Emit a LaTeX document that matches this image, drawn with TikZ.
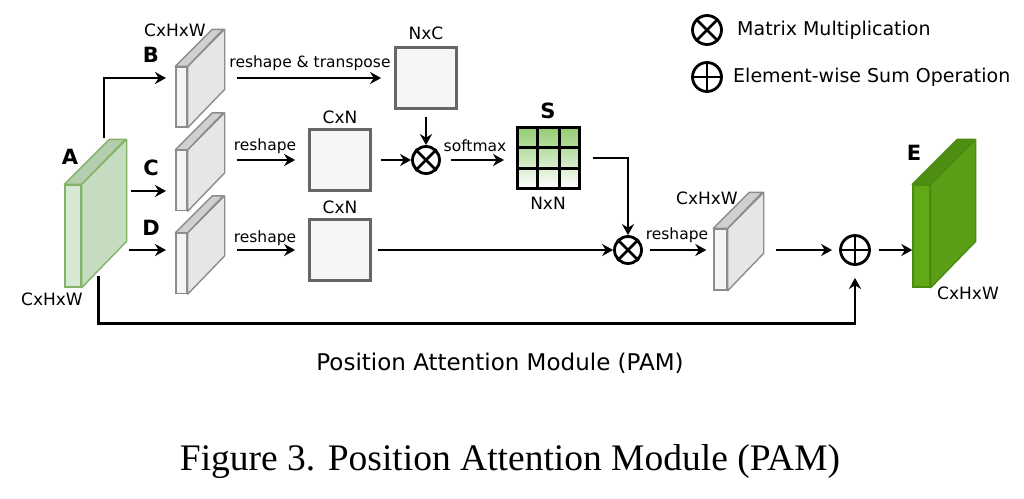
\documentclass[tikz,border=0pt]{standalone}
\usepackage{fontspec}
\setmainfont{DejaVu Sans}
\newfontfamily\capfont{Liberation Serif}
\usetikzlibrary{arrows.meta,calc}

% colours of the slabs: F front, S side, T top, L line
\definecolor{featF}{HTML}{F4F4F4}
\definecolor{featS}{HTML}{E6E6E6}
\definecolor{featT}{HTML}{D0D0D0}
\definecolor{featL}{HTML}{8C8C8C}
\definecolor{inAF}{HTML}{D5E8D4}
\definecolor{inAS}{HTML}{C5DCC1}
\definecolor{inAT}{HTML}{B3CDAE}
\definecolor{inAL}{HTML}{82B366}
\definecolor{outEF}{HTML}{60A917}
\definecolor{outES}{HTML}{5A9F15}
\definecolor{outET}{HTML}{4E8E10}
\definecolor{outEL}{HTML}{4A8C12}
\definecolor{boxF}{HTML}{F5F5F5}
\definecolor{boxL}{HTML}{666666}
\definecolor{sGreen}{HTML}{92CD72}

% slab: name, centre of front face, width, height, depth, colour prefix
\newcommand{\featslab}[6]{%
  \node[draw=#6L, fill=#6F, line width=1.4pt, minimum width=#3pt, minimum height=#4pt, inner sep=0pt] (#1) at #2 {};
  \filldraw[draw=#6L, fill=#6S, line width=1.4pt, line join=round] (#1.north east) -- ++(#5,-#5) -- ++(0,#4) -- (#1.south east) -- cycle;
  \filldraw[draw=#6L, fill=#6T, line width=1.4pt, line join=round] (#1.north west) -- ++(#5,-#5) -- ++(#3,0) -- (#1.north east) -- cycle;
}

\tikzset{
  lbl/.style={font=\fontsize{15.5}{18}\selectfont, inner sep=0pt},
  dim/.style={font=\fontsize{17}{20}\selectfont, inner sep=0pt},
  tag/.style={font=\fontsize{21}{24}\selectfont\bfseries, inner sep=0pt},
  legend/.style={font=\fontsize{19}{22}\selectfont, inner sep=0pt, anchor=west},
  arr/.style={->, line width=2.6pt},
  flat/.style={draw=boxL, fill=boxF, line width=2.8pt, minimum size=61pt, inner sep=0pt},
  op/.style={circle, draw, line width=2.8pt, minimum size=27pt, inner sep=0pt},
  opbar/.style={line width=2.8pt},
}

\begin{document}
\begin{tikzpicture}[x=1pt, y=-1pt, >={Stealth[length=11pt,width=12pt]}]
        \useasboundingbox (0,0) rectangle (1024,498);
        %
        % input and the three branches
        \featslab{A}{(73,236)}{16}{102}{45}{inA}
        \featslab{B}{(181.5,97)}{11}{60}{37}{feat}
        \featslab{C}{(181.5,180.5)}{11}{60}{37}{feat}
        \featslab{D}{(181.5,263.5)}{11}{60}{37}{feat}
        \node[tag] (tA) at (70,157) {A};
        \node[dim] (dA) at (52,299) {CxHxW};
        \node[tag] (tB) at (151,55) {B};
        \node[tag] (tC) at (151,168) {C};
        \node[tag] (tD) at (151,228) {D};
        \node[dim] (dB) at (175,30) {CxHxW};
        %
        \coordinate (aUp) at (104,138);
        \coordinate (bIn) at (166,78);
        \coordinate (cIn) at (166,191);
        \coordinate (dIn) at (166,250);
        \draw[arr] (aUp) |- (bIn);
        \draw[arr] (cIn -| 131,0) -- (cIn);
        \draw[arr] (dIn -| 129,0) -- (dIn);
        %
        % reshaped matrices
        \node[flat] (NC) at (426,78) {};
        \node[flat] (CN1) at (340,160) {};
        \node[flat] (CN2) at (340,250) {};
        \node[dim] (dNC) at (426,33) {NxC};
        \node[dim] (dCN1) at (340,117) {CxN};
        \node[dim] (dCN2) at (340,207) {CxN};
        \draw[arr, shorten <=49pt, shorten >=13pt] (B.east |- NC.west) -- (NC.west);
        \node[lbl] (rt) at (310,63) {reshape \& transpose};
        \draw[arr, shorten <=49pt, shorten >=13pt] (C.east |- CN1.west) -- (CN1.west);
        \node[lbl] (r1) at (265,146) {reshape};
        \draw[arr, shorten <=49pt, shorten >=13pt] (D.east |- CN2.west) -- (CN2.west);
        \node[lbl] (r2) at (265,238) {reshape};
        %
        % attention map
        \node[op] (m1) at (426,160) {};
        \draw[opbar] (m1.north west) -- (m1.south east) (m1.north east) -- (m1.south west);
        \draw[arr, shorten <=7pt] (NC.south) -- (m1.north);
        \draw[arr, shorten <=9pt] (CN1.east) -- (m1.west);
        \node[draw, line width=3pt, top color=sGreen, bottom color=white, minimum width=62pt, minimum height=61pt, inner sep=0pt] (S) at (548.5,158) {};
        \foreach \f in {1,2} {
          \draw[line width=2.6pt] ($(S.north west)!\f/3!(S.north east)$) -- ($(S.south west)!\f/3!(S.south east)$);
          \draw[line width=2.6pt] ($(S.north west)!\f/3!(S.south west)$) -- ($(S.north east)!\f/3!(S.south east)$);
        }
        \node[tag] (tS) at (548,111) {S};
        \node[dim] (dS) at (548,203) {NxN};
        \draw[arr, shorten <=10pt, shorten >=12pt] (m1.east) -- (S.west |- m1.east);
        \node[lbl] (sm) at (475,146) {softmax};
        %
        % output
        \node[op] (m2) at (628,250) {};
        \draw[opbar] (m2.north west) -- (m2.south east) (m2.north east) -- (m2.south west);
        \draw[arr, shorten <=12pt] (S.east) -| (m2.north);
        \draw[arr, shorten <=6pt] (CN2.east) -- (m2.west);
        \featslab{O}{(720.5,259.5)}{13}{61}{36}{feat}
        \node[dim] (dO) at (707,198) {CxHxW};
        \draw[arr, shorten <=7pt, shorten >=7pt] (m2.east) -- (O.west |- m2.east);
        \node[lbl] (r3) at (677,235) {reshape};
        \node[op, minimum size=29pt] (p) at (855,250) {};
        \draw[opbar] (p.north) -- (p.south) (p.west) -- (p.east);
        \draw[arr, shorten <=48pt, shorten >=7pt] (O.east |- p.west) -- (p.west);
        \featslab{E}{(921.5,236)}{17}{102}{45}{outE}
        \node[tag] (tE) at (914,153) {E};
        \node[dim] (dE) at (968,293) {CxHxW};
        \draw[arr, shorten <=8pt] (p.east) -- (E.west |- p.east);
        %
        % skip connection
        \coordinate (aDown) at ([shift={(17pt,12pt)}]A.south east);
        \draw[arr, shorten >=12pt] (aDown) -- ++(0,48) -| (p.south);
        %
        % legend
        \node[op, minimum size=29pt] (lm) at (707,30) {};
        \draw[opbar] (lm.north west) -- (lm.south east) (lm.north east) -- (lm.south west);
        \node[legend] (tm) at (737,30) {Matrix Multiplication};
        \node[op, minimum size=29pt] (lp) at (707,77) {};
        \draw[opbar] (lp.north) -- (lp.south) (lp.west) -- (lp.east);
        \node[legend] (tp) at (733,77) {Element-wise Sum Operation};
        %
        \node[font=\fontsize{23}{26}\selectfont, inner sep=0pt] (title) at (500,363) {Position Attention Module (PAM)};
        \node[font=\capfont\fontsize{37.5}{42}\selectfont, inner sep=0pt] (cap) at (510,462) {Figure 3. Position Attention Module (PAM)};
        \end{tikzpicture}
\end{document}
